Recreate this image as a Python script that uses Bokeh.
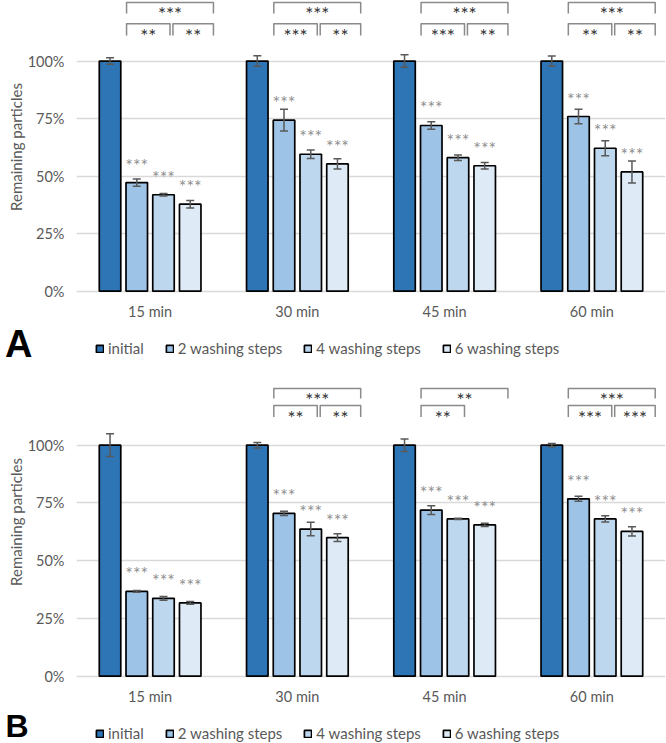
import numpy as np
from bokeh.plotting import figure
from bokeh.models import (Range1d, FixedTicker, PrintfTickFormatter, CustomJSTickFormatter,
                          Legend, LegendItem)
from bokeh.layouts import column
from bokeh.embed import file_html
from bokeh.resources import INLINE
from bokeh.core.properties import value

# ---------------- data ----------------
times = ["15 min", "30 min", "45 min", "60 min"]
series = ["initial", "2 washing steps", "4 washing steps", "6 washing steps"]
colors = ["#2e75b6", "#9dc3e6", "#bdd7ee", "#deebf7"]
y_ticks = [0, 25, 50, 75, 100]

# Panel A (remaining particles, %)
a_initial = [100, 100, 100, 100]
a_wash2 = [47.2, 74.3, 72.0, 75.9]
a_wash4 = [41.9, 59.5, 58.0, 62.1]
a_wash6 = [37.8, 55.3, 54.5, 51.8]
a_err_initial = [1.4, 2.3, 2.7, 2.2]
a_err_wash2 = [1.6, 4.7, 1.6, 3.2]
a_err_wash4 = [0.5, 1.9, 1.2, 3.3]
a_err_wash6 = [1.6, 2.2, 1.4, 4.8]
a_sig_wash2 = ["***", "***", "***", "***"]
a_sig_wash4 = ["***", "***", "***", "***"]
a_sig_wash6 = ["***", "***", "***", "***"]
a_br_2v6 = ["***", "***", "***", "***"]
a_br_2v4 = ["**", "***", "***", "**"]
a_br_4v6 = ["**", "**", "**", "**"]

# Panel B
b_initial = [100, 100, 100, 100]
b_wash2 = [36.7, 70.5, 71.9, 76.8]
b_wash4 = [33.7, 63.7, 68.1, 68.1]
b_wash6 = [31.7, 60.0, 65.5, 62.7]
b_err_initial = [4.9, 1.2, 2.7, 0.7]
b_err_wash2 = [0.4, 0.95, 1.9, 1.1]
b_err_wash4 = [0.8, 2.9, 0.3, 1.4]
b_err_wash6 = [0.6, 1.65, 0.7, 2.0]
b_sig_wash2 = ["***", "***", "***", "***"]
b_sig_wash4 = ["***", "***", "***", "***"]
b_sig_wash6 = ["***", "***", "***", "***"]
b_br_2v6 = ["", "***", "**", "***"]
b_br_2v4 = ["", "**", "**", "***"]
b_br_4v6 = ["", "**", "", "***"]

FONT = value("Lato")
TXT = "#595959"
W = 666
FRAME_LEFT = 76


def build_chart(vals, errs, sigs, br_2v6, br_2v4, br_4v6, geo, height, y_end):
    n = len(times)
    p = figure(width=W, height=height, x_range=Range1d(0, n),
               y_range=Range1d(-1, y_end), output_backend="svg",
               toolbar_location=None, min_border_left=FRAME_LEFT, min_border_right=1,
               min_border_top=0, min_border_bottom=28,
               outline_line_color=None, background_fill_color="white",
               border_fill_color="white")
    centers = np.arange(n) + 0.5
    offsets = (np.arange(len(series)) - 1.5) * 0.1815
    for k in range(len(series)):
        xs = centers + offsets[k]
        v = np.array(vals[k], dtype=float)
        e = np.array(errs[k], dtype=float)
        p.vbar(x=xs, top=v, bottom=0, width=0.146, fill_color=colors[k],
               line_color="black", line_width=1.7)
        p.segment(x0=xs, y0=v - e, x1=xs, y1=v + e, line_color="#595959", line_width=1.5)
        p.scatter(x=xs, y=v - e, marker="dash", size=8, line_color="#595959", line_width=1.5)
        p.scatter(x=xs, y=v + e, marker="dash", size=8, line_color="#595959", line_width=1.5)
        if k > 0:
            p.text(x=xs, y=v, text=sigs[k - 1], text_font=FONT, text_font_size="18px",
                   text_color="#8f8f8f", text_align="center", text_baseline="alphabetic",
                   y_offset=-18)

    # significance brackets between washing-step bars
    L, ML, MR, R = -0.16, 0.135, 0.155, 0.43
    bx, by, tx, ty, tt = [], [], [], [], []
    for i, c in enumerate(centers):
        if br_2v6[i]:
            bx.append([c + L, c + L, c + R, c + R])
            by.append([geo["top_leg"], geo["top"], geo["top"], geo["top_leg"]])
            tx.append(c + (L + R) / 2); ty.append(geo["top_text"]); tt.append(br_2v6[i])
        if br_2v4[i]:
            bx.append([c + L, c + L, c + ML, c + ML])
            by.append([geo["low_leg"], geo["low"], geo["low"], geo["low_leg"]])
            tx.append(c + (L + ML) / 2); ty.append(geo["low_text"]); tt.append(br_2v4[i])
        if br_4v6[i]:
            bx.append([c + MR, c + MR, c + R, c + R])
            by.append([geo["low_leg"], geo["low"], geo["low"], geo["low_leg"]])
            tx.append(c + (MR + R) / 2); ty.append(geo["low_text"]); tt.append(br_4v6[i])
    p.multi_line(xs=bx, ys=by, line_color="#8a8a8a", line_width=1.5, line_join="round")
    p.text(x=tx, y=ty, text=tt, text_font=FONT, text_font_size="19px", text_color="#333333",
           text_align="center", text_baseline="alphabetic", y_offset=4)

    # axes
    p.xgrid.visible = False
    p.ygrid.grid_line_color = "#d9d9d9"
    p.ygrid.grid_line_width = 1.5
    p.yaxis.ticker = FixedTicker(ticks=y_ticks)
    p.yaxis.formatter = PrintfTickFormatter(format="%d%%")
    p.xaxis.ticker = FixedTicker(ticks=list(centers))
    p.xaxis.formatter = CustomJSTickFormatter(args=dict(labels=times),
                                              code="return labels[Math.floor(tick)] || ''")
    for ax in (p.xaxis, p.yaxis):
        ax.axis_line_color = None
        ax.major_tick_line_color = None
        ax.minor_tick_line_color = None
        ax.major_tick_out = 0
        ax.major_tick_in = 0
        ax.minor_tick_out = 0
        ax.minor_tick_in = 0
        ax.major_label_text_font = "Lato"
        ax.major_label_text_font_size = "14.5px"
        ax.major_label_text_color = TXT
    p.xaxis.major_label_standoff = 9
    p.yaxis.major_label_standoff = 12
    p.yaxis.axis_label = "Remaining particles"
    p.yaxis.axis_label_text_font = "Lato"
    p.yaxis.axis_label_text_font_size = "15px"
    p.yaxis.axis_label_text_font_style = "normal"
    p.yaxis.axis_label_text_color = TXT
    p.yaxis.axis_label_standoff = 0
    return p


def build_footer(letter, height, letter_size, letter_standoff, legend_y):
    f = figure(width=W, height=height, x_range=Range1d(0, 1), y_range=Range1d(0, 1),
               output_backend="svg", toolbar_location=None, min_border=0,
               min_border_left=FRAME_LEFT, x_axis_location=None, y_axis_location="left",
               outline_line_color=None, background_fill_color="white",
               border_fill_color="white")
    f.grid.visible = False
    # panel letter, written as the (horizontal) label of a tick-less left axis
    ax = f.yaxis[0]
    ax.ticker = FixedTicker(ticks=[])
    ax.axis_line_color = None
    ax.major_tick_line_color = None
    ax.minor_tick_line_color = None
    ax.major_tick_out = 0
    ax.major_tick_in = 0
    ax.minor_tick_out = 0
    ax.minor_tick_in = 0
    ax.major_label_standoff = 0
    ax.axis_label = letter
    ax.axis_label_orientation = "horizontal"
    ax.axis_label_text_font = "Liberation Sans"
    ax.axis_label_text_font_style = "bold"
    ax.axis_label_text_font_size = letter_size
    ax.axis_label_text_color = "black"
    ax.axis_label_standoff = letter_standoff
    # legend swatches: renderers with a single empty (NaN) entry, nothing is drawn
    rs = [f.vbar(x=[np.nan], top=[np.nan], width=0.1, fill_color=c, line_color="black",
                 line_width=1.7) for c in colors]
    legend = Legend(items=[LegendItem(label=s, renderers=[r]) for s, r in zip(series, rs)],
                    orientation="horizontal", location=(95 - FRAME_LEFT, legend_y), margin=0,
                    padding=0, spacing=21, glyph_width=9, glyph_height=9, label_standoff=4,
                    border_line_color=None, background_fill_alpha=0,
                    label_text_font="Lato", label_text_font_size="15px",
                    label_text_color=TXT)
    f.add_layout(legend)
    return f


geo_a = dict(top=125.4, top_leg=120.7, top_text=122.4, low=116.2, low_leg=111.1,
             low_text=113.0)
geo_b = dict(top=124.5, top_leg=120.2, top_text=121.6, low=117.2, low_leg=112.2,
             low_text=113.9)

pa = build_chart([a_initial, a_wash2, a_wash4, a_wash6],
                 [a_err_initial, a_err_wash2, a_err_wash4, a_err_wash6],
                 [a_sig_wash2, a_sig_wash4, a_sig_wash6], a_br_2v6, a_br_2v4, a_br_4v6,
                 geo_a, height=322, y_end=126.3)
fa = build_footer("A", 43, "38px", 44, 8)
pb = build_chart([b_initial, b_wash2, b_wash4, b_wash6],
                 [b_err_initial, b_err_wash2, b_err_wash4, b_err_wash6],
                 [b_sig_wash2, b_sig_wash4, b_sig_wash6], b_br_2v6, b_br_2v4, b_br_4v6,
                 geo_b, height=342, y_end=134.5)
fb = build_footer("B", 36, "32px", 48, 1)

layout = column(pa, fa, pb, fb, spacing=0)
open("out.html", "w").write(file_html(layout, INLINE))
